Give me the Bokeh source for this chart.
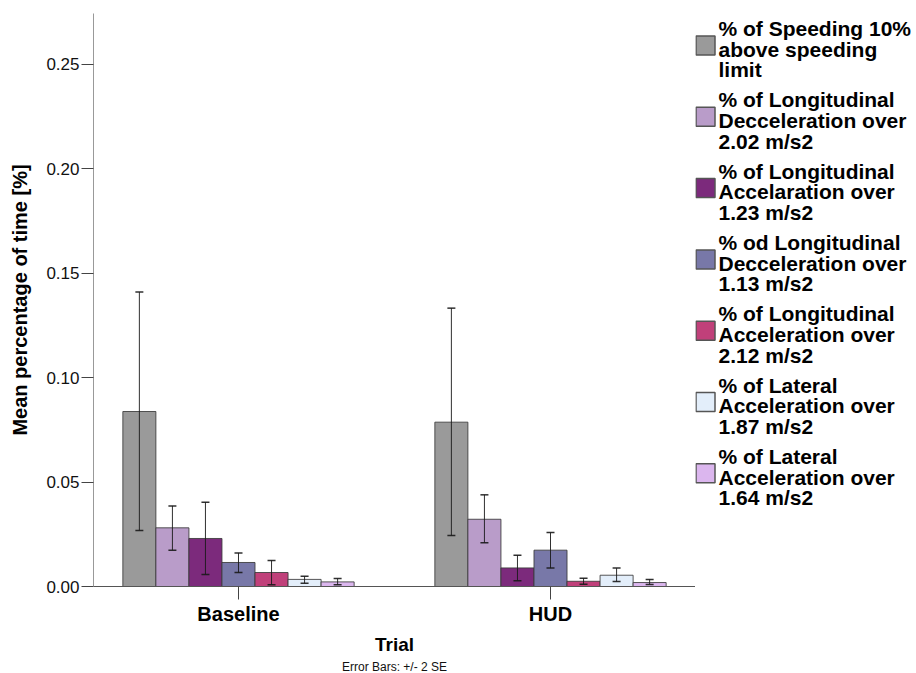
from bokeh.plotting import figure
from bokeh.models import (ColumnDataSource, Range1d, FixedTicker, Whisker, TeeHead,
                          Title, NumeralTickFormatter)
from bokeh.layouts import row
from bokeh.embed import file_html
from bokeh.resources import INLINE

# ---------------- data ----------------
trials = ["Baseline", "HUD"]
series_lines = [
    ["% of Speeding 10%", "above speeding", "limit"],
    ["% of Longitudinal", "Decceleration over", "2.02 m/s2"],
    ["% of Longitudinal", "Accelaration over", "1.23 m/s2"],
    ["% od Longitudinal", "Decceleration over", "1.13 m/s2"],
    ["% of Longitudinal", "Acceleration over", "2.12 m/s2"],
    ["% of Lateral", "Acceleration over", "1.87 m/s2"],
    ["% of Lateral", "Acceleration over", "1.64 m/s2"],
]
colors = ["#9a9a9a", "#b99cc9", "#7c2a7c", "#7878a8", "#c0407a", "#e3eefa", "#dbb6ee"]

mean_baseline = [0.0838, 0.0281, 0.0230, 0.0115, 0.0067, 0.0034, 0.0022]
low_baseline = [0.0268, 0.0174, 0.0057, 0.0067, 0.0008, 0.0016, 0.0008]
up_baseline = [0.1410, 0.0386, 0.0404, 0.0161, 0.0125, 0.0049, 0.0038]

mean_hud = [0.0787, 0.0322, 0.0089, 0.0174, 0.0025, 0.0054, 0.0019]
low_hud = [0.0244, 0.0209, 0.0028, 0.0088, 0.0011, 0.0024, 0.0010]
up_hud = [0.1333, 0.0439, 0.0150, 0.0258, 0.0040, 0.0088, 0.0034]

y_ticks = [0.0, 0.05, 0.10, 0.15, 0.20, 0.25]

# ---------------- build table ----------------
n = len(series_lines)
bar_w = 0.1059
xs, tops, lows, ups, cols = [], [], [], [], []
for t, (m, lo, up) in enumerate([(mean_baseline, low_baseline, up_baseline),
                                 (mean_hud, low_hud, up_hud)]):
    for i in range(n):
        xs.append(t + (i - (n - 1) / 2) * bar_w)
        tops.append(m[i])
        lows.append(lo[i])
        ups.append(up[i])
        cols.append(colors[i])
src = ColumnDataSource(dict(x=xs, top=tops, lower=lows, upper=ups, color=cols))

FONT = "Liberation Sans"
TOP, BOTTOM = 13, 87

p = figure(width=695, height=673,
           x_range=Range1d(-0.4647, 1.4647), y_range=Range1d(0, 0.2744),
           toolbar_location=None, output_backend="svg",
           min_border_left=93, min_border_right=0, min_border_top=TOP,
           min_border_bottom=BOTTOM)
p.background_fill_color = "white"
p.border_fill_color = "white"
p.outline_line_color = None
p.grid.visible = False

p.vbar(x="x", top="top", bottom=0, width=bar_w, source=src,
       fill_color="color", line_color="#3a3a3a", line_width=1, line_alpha=0.85)

head_kw = dict(size=8, line_color="#1a1a1a", line_width=1.5, line_alpha=0.9)
w = Whisker(source=src, base="x", upper="upper", lower="lower", dimension="height",
            line_color="#1a1a1a", line_width=1, line_alpha=0.9, level="overlay",
            upper_head=TeeHead(**head_kw), lower_head=TeeHead(**head_kw))
p.add_layout(w)

# y axis
ya = p.yaxis[0]
ya.ticker = FixedTicker(ticks=y_ticks)
ya.formatter = NumeralTickFormatter(format="0.00")
ya.minor_tick_line_color = None
ya.major_tick_in = 0
ya.major_tick_out = 12
ya.major_tick_line_color = "#444444"
ya.axis_line_color = "#999999"
ya.major_label_standoff = 2
ya.major_label_text_font = FONT
ya.major_label_text_font_size = "17px"
ya.major_label_text_color = "#111111"
ya.axis_label = "Mean percentage of time [%]"
ya.axis_label_text_font = FONT
ya.axis_label_text_font_size = "20px"
ya.axis_label_text_font_style = "bold"
ya.axis_label_text_color = "#000000"
ya.axis_label_standoff = 12

# x axis
xa = p.xaxis[0]
xa.ticker = FixedTicker(ticks=list(range(len(trials))))
xa.major_label_overrides = {i: t for i, t in enumerate(trials)}
xa.minor_tick_line_color = None
xa.major_tick_in = 0
xa.major_tick_out = 13
xa.major_tick_line_color = "#444444"
xa.axis_line_color = "#555555"
xa.major_label_standoff = 3
xa.major_label_text_font = FONT
xa.major_label_text_font_size = "20px"
xa.major_label_text_font_style = "bold"
xa.major_label_text_color = "#000000"
xa.axis_label = "Trial"
xa.axis_label_text_font = FONT
xa.axis_label_text_font_size = "19px"
xa.axis_label_text_font_style = "bold"
xa.axis_label_text_color = "#000000"
xa.axis_label_standoff = 6

p.add_layout(Title(text="Error Bars: +/- 2 SE", align="center", standoff=0,
                   text_font=FONT, text_font_size="12px", text_font_style="normal",
                   text_color="#111111"), "below")

# ---------------- legend panel ----------------
LW = 220
lg = figure(width=LW, height=673, x_range=Range1d(0, LW),
            y_range=Range1d(673 - BOTTOM, TOP),
            x_axis_type=None, y_axis_type=None, toolbar_location=None,
            output_backend="svg", min_border_left=0, min_border_right=0,
            min_border_top=TOP, min_border_bottom=BOTTOM)
lg.outline_line_color = None
lg.grid.visible = False
lg.background_fill_color = "white"
lg.border_fill_color = "white"

entry_h = 71.3
line_h = 20.7
sw_x, sw_y = [], []
tx, ty, tt = [], [], []
for k, lines in enumerate(series_lines):
    sw_x.append(10)
    sw_y.append(45 + entry_h * k)
    for j, line in enumerate(lines):
        tx.append(23)
        ty.append(28 + entry_h * k + line_h * j)
        tt.append(line)
lg.rect(x=sw_x, y=sw_y, width=19, height=19, fill_color=colors,
        line_color="#555555", line_width=1.5)
lg.text(x=tx, y=ty, text=tt, text_font_size="21px", text_font_style="bold",
        text_baseline="alphabetic", text_align="left", text_color="#000000",
        text_font={"value": FONT})

layout = row(p, lg)
open("out.html", "w").write(file_html(layout, INLINE))
